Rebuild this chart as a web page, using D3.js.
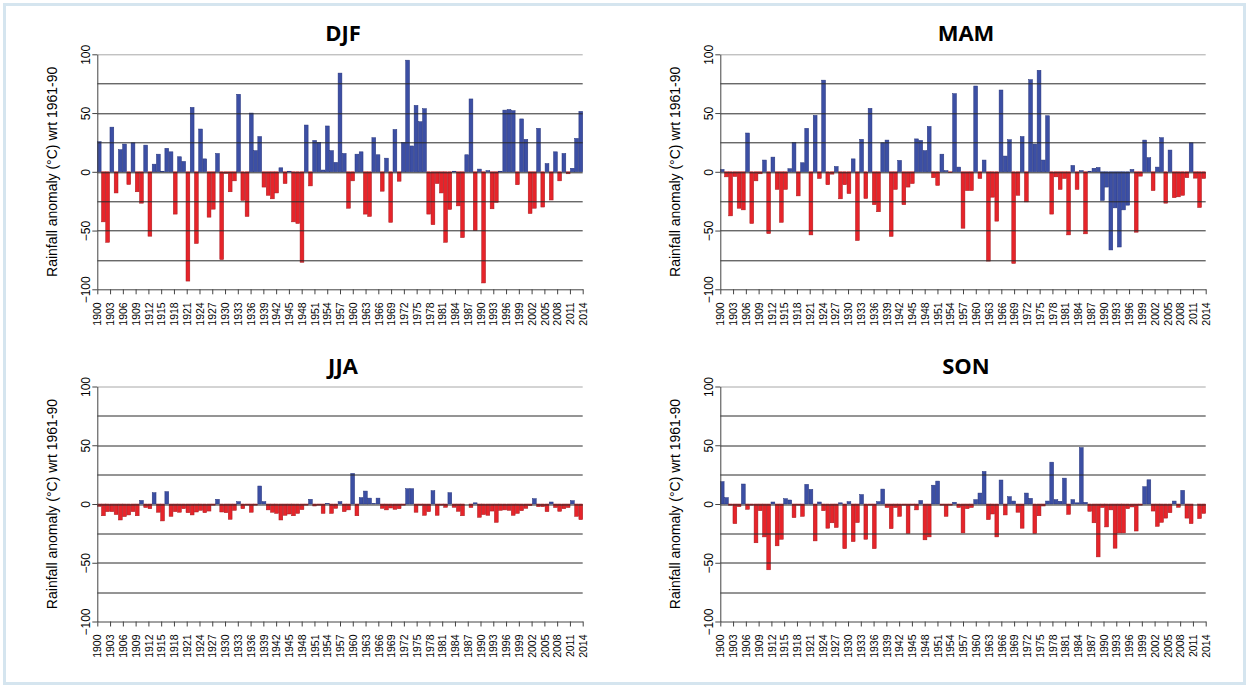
<!DOCTYPE html>
<html>
<head>
<meta charset="utf-8">
<script src="https://cdn.jsdelivr.net/npm/d3@7"></script>
<style>
  body { margin: 0; background: #ffffff; }
  svg { display: block; }
  .tick text { font-family: "Liberation Sans", Arial, sans-serif; fill: #000; }
</style>
</head>
<body>
<div id="chart"></div>
<script>
// years on the x axis and the labelled ticks
var years = d3.range(1900, 2015);
var tickYears = d3.range(1900, 2015, 3);
var yTicks = [-100, -50, 0, 50, 100];
var gridValues = [-75, -50, -25, 0, 25, 50, 75];

// seasonal anomalies, 1900..2014
var djf = [
  25.6, -42.6, -60, 38, -18, 18.8, 23.6, -10.8, 24.7, -17,
  -26.7, 22.7, -54.8, 6.5, 15, 0.5, 20, 17, -36, 12.8,
  8.8, -93, 54.8, -61, 36.4, 11, -38.6, -31.8, 15.6, -74.7,
  -1.4, -17, -7.7, 66, -24.4, -38, 50, 18, 30, -13,
  -20, -23, -18, 3.4, -10, 0.5, -42.6, -44, -77, 39.8,
  -12, 26.7, 25, 1.5, 39, 18, 8, 84, 15.6, -31,
  -7.7, 15, 17, -36, -38, 29, 14.5, -16.5, 11.6, -43,
  36, -8, 25, 95, 22, 56.5, 42.6, 53.7, -36, -45,
  -10, -18, -60, -32, 0.5, -29, -56, 14.5, 62, -50,
  2.3, -94.6, 1, -31.5, -26, 0.5, 52.5, 53, 52, -11,
  45, 27.6, -35.5, -31, 37, -30, 7, -24, 17, -7.7,
  15.6, -1.7, 3, 28.4, 51.4
];

var mam = [
  2, -4.3, -37.5, -4, -31, -32.4, 33, -44, -7.7, -1.7,
  10, -52.6, 12.5, -15, -43, -15, 2.6, 25, -20.5, 7.7,
  37, -53.7, 48, -5.7, 78, -11, -2, 4.5, -23, -11,
  -18.5, 11, -58.5, 27.6, -22.7, 54, -28, -34, 24.7, 27,
  -55, -15, 9.7, -28, -13, -10, 28, 26.7, 18, 38.6,
  -5, -11.6, 15, 1, -0.6, 66.5, 4, -48, -16, -16,
  73, -5.7, 10, -76, -21.6, -42, 69.6, 13.4, 27.3, -78,
  -20, 30, -25.6, 78.4, 23.6, 86.4, 10, 47.7, -36, -4.3,
  -15, -5.7, -53.7, 5.4, -15, 1, -52.8, 0.5, 3, 3.7,
  -24.4, -13, -66.5, -30.7, -64, -32.4, -28.4, 2, -51.4, -3.7,
  27, 12, -16, 4, 29, -26.7, 18.5, -22, -21.3, -20,
  -5, 24.7, -5.4, -30.4, -5.7
];
// MAM years drawn in blue although below zero
var mamBlueYears = [1990, 1991, 1992, 1993, 1994, 1995, 1996];

var jja = [
  -2, -10, -6.5, -6.5, -9, -13.6, -10.7, -9.3, -6.5, -10,
  3, -3, -4, 9.6, -7, -14.4, 10.5, -10.5, -6.5, -7,
  -4, -7.4, -9.3, -6.8, -5.4, -7.4, -6, -1, 4, -6.8,
  -7.4, -13, -5.4, 2, -4, -1, -7, -1, 15.3, 2,
  -5, -7, -8, -13.6, -9.6, -8.5, -10, -8, -4.8, -1,
  4, -1.7, -1, -8, 0.5, -8, -3.7, 2, -6.5, -5,
  26, -10, 5.4, 11, 5, 0.5, 5, -3.7, -5, -3.4,
  -4.5, -4, -1, 13, 13, -7, -1, -9.6, -6.5, 11.3,
  -9.6, -1, -2.8, 9.6, -2.8, -6.2, -10, 0, -3, 1,
  -11.3, -9, -9.6, -6, -15.6, -5.4, -5, -5.4, -9.6, -8,
  -5.7, -3.7, -1.4, 4.5, -2.3, -2.3, -6.5, 1.7, -3, -6.2,
  -4, -3, 2.8, -10.5, -13.3
];

var son = [
  19, 5.4, -1, -16.7, -2.3, 17, -4.5, -1, -33, -5.7,
  -28, -56, 1.7, -35.6, -30, 4.5, 3.4, -11.6, -1, -10.5,
  16.7, 12.4, -31.4, 1.7, -5.7, -20.6, -16, -20, 1, -38,
  2, -32, -15.8, 8, -30, -1, -38, 2, 12.7, -3,
  -21, -3, -10.5, -1, -25, -1, -5, 3, -30.5, -28,
  16, 19.5, -1, -10.5, -1, 1.5, -3, -24.6, -4, -3,
  3.7, 9.3, 27.7, -13.3, -8.5, -28, 20.4, -9.3, 6.2, 2.5,
  -7, -20.6, 9.3, 4.8, -25, -10, -1.7, 2.5, 35.6, 3.7,
  2.3, 22, -8.8, 3.7, 1, 48, 1.4, -6.2, -16, -45,
  -3, -19.5, -5, -37.6, -24.6, -24.6, -4, -2.5, -23, -1,
  14.7, 20.6, -6, -19, -15.6, -12, -7.4, 2.5, -2.8, 11.6,
  -12, -16.7, 0, -12.4, -8
];

var svgWidth = 1250;
var svgHeight = 688;

var plotWidth = 485.4;
var plotHeight = 235;

var blueFill = "#3c4fa4";
var blueEdge = "#25337a";
var redFill = "#e6242a";
var redEdge = "#a5161b";

var svg = d3.select("#chart")
  .append("svg")
  .attr("width", svgWidth)
  .attr("height", svgHeight);

// light blue frame round the whole figure
svg.append("rect")
  .attr("x", 4.5)
  .attr("y", 4.5)
  .attr("width", 1240)
  .attr("height", 679)
  .attr("fill", "none")
  .attr("stroke", "#d5e5ef")
  .attr("stroke-width", 3);

function drawPanel(title, values, blueYears, left, top) {

  var g = svg.append("g")
    .attr("transform", `translate(${left}, ${top})`);

  var xBand = d3.scaleBand()
    .domain(years)
    .range([0, plotWidth])
    .paddingInner(0.1);

  var xTick = d3.scaleLinear()
    .domain([1900, 2014])
    .range([0, plotWidth]);

  var y = d3.scaleLinear()
    .domain([-100, 100])
    .range([plotHeight, 0]);

  // bars
  g.selectAll("rect.bar")
    .data(years)
    .enter()
    .append("rect")
    .attr("class", "bar")
    .attr("x", d => xBand(d))
    .attr("width", xBand.bandwidth())
    .attr("y", (d, i) => y(Math.max(0, values[i])))
    .attr("height", (d, i) => Math.abs(y(values[i]) - y(0)))
    .attr("fill", (d, i) => (values[i] >= 0 || blueYears.indexOf(d) >= 0) ? blueFill : redFill)
    .attr("stroke", (d, i) => (values[i] >= 0 || blueYears.indexOf(d) >= 0) ? blueEdge : redEdge)
    .attr("stroke-width", 0.5);

  // grid lines drawn over the bars
  g.selectAll("line.grid")
    .data(gridValues)
    .enter()
    .append("line")
    .attr("class", "grid")
    .attr("x1", 0)
    .attr("x2", plotWidth)
    .attr("y1", d => Math.round(y(d)) + 0.5)
    .attr("y2", d => Math.round(y(d)) + 0.5)
    .attr("stroke", "#2a2a2a")
    .attr("stroke-width", 1);

  g.append("line")
    .attr("x1", 0)
    .attr("x2", plotWidth)
    .attr("y1", Math.round(y(100)) + 0.5)
    .attr("y2", Math.round(y(100)) + 0.5)
    .attr("stroke", "#a8a8a8")
    .attr("stroke-width", 1);

  // y axis
  var leftAxis = d3.axisLeft(y)
    .tickValues(yTicks)
    .tickSize(5)
    .tickSizeOuter(0);

  var yAxisG = g.append("g")
    .call(leftAxis);
  yAxisG.select(".domain").attr("stroke", "#444");
  yAxisG.selectAll(".tick line").attr("stroke", "#444");
  yAxisG.selectAll("text")
    .attr("transform", "rotate(-90)")
    .attr("x", 0)
    .attr("y", -7)
    .attr("dy", "0")
    .style("text-anchor", "middle")
    .style("font-size", "12px");

  // x axis
  var bottomAxis = d3.axisBottom(xTick)
    .tickValues(tickYears)
    .tickFormat(d3.format("d"))
    .tickSize(5)
    .tickSizeOuter(0);

  var xAxisG = g.append("g")
    .attr("transform", `translate(0, ${plotHeight})`)
    .call(bottomAxis);
  xAxisG.select(".domain").attr("stroke", "#444");
  xAxisG.selectAll(".tick line").attr("stroke", "#444");
  xAxisG.selectAll("text")
    .attr("transform", "rotate(-90)")
    .attr("x", -13)
    .attr("y", 0)
    .attr("dy", "0.35em")
    .style("text-anchor", "end")
    .style("font-size", "10.5px");

  // axis title
  g.append("text")
    .attr("transform", "rotate(-90)")
    .attr("x", -plotHeight / 2)
    .attr("y", -40)
    .attr("text-anchor", "middle")
    .style("font-family", "'Liberation Sans', Arial, sans-serif")
    .style("font-size", "14px")
    .text("Rainfall anomaly (°C) wrt 1961-90");

  // panel title
  g.append("text")
    .attr("x", plotWidth / 2 + 3)
    .attr("y", -13)
    .attr("text-anchor", "middle")
    .style("font-family", "'Open Sans', sans-serif")
    .style("font-weight", "bold")
    .style("font-size", "22px")
    .text(title);
}

drawPanel("DJF", djf, [], 97.3, 54.3);
drawPanel("MAM", mam, mamBlueYears, 720.3, 54.3);
drawPanel("JJA", jja, [], 97.3, 386.5);
drawPanel("SON", son, [], 720.3, 386.5);
</script>
</body>
</html>
